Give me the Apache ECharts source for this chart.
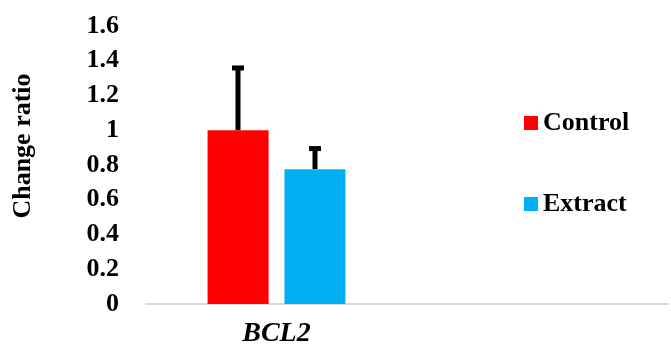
<!DOCTYPE html>
<html>
<head>
<meta charset="utf-8">
<script src="https://cdn.jsdelivr.net/npm/echarts@6/dist/echarts.min.js"></script>
<style>html,body{margin:0;padding:0;background:#fff}#c{width:671px;height:344px}</style>
</head>
<body>
<div id="c"></div>
<script>
var categories = ['BCL2', ''];
var seriesNames = ['Control', 'Extract'];
var controlValues = [1.0, null];
var extractValues = [0.776, null];
var controlErrors = [0.37, null];
var extractErrors = [0.13, null];
var yTicks = { min: 0, max: 1.6, interval: 0.2 };
var yTitle = 'Change ratio';

var FONT = "'Liberation Serif', 'Times New Roman', serif";
var BAR_W = 61, OFFSET = 38.5;

function errSeries(values, errors, dx) {
  return {
    type: 'custom',
    silent: true,
    z: 1,
    data: values.map(function (v, i) { return v == null ? null : [i, v, v + errors[i]]; }).filter(function (d) { return d; }),
    renderItem: function (params, api) {
      var b = api.coord([api.value(0), api.value(1)]);
      var t = api.coord([api.value(0), api.value(2)]);
      var x = b[0] + dx;
      return {
        type: 'group',
        children: [
          { type: 'line', shape: { x1: x, y1: b[1], x2: x, y2: t[1] + 2 }, style: { stroke: '#000', lineWidth: 5 } },
          { type: 'line', shape: { x1: x - 6, y1: t[1] + 2, x2: x + 6, y2: t[1] + 2 }, style: { stroke: '#000', lineWidth: 5 } }
        ]
      };
    }
  };
}

var chart = echarts.init(document.getElementById('c'));
chart.setOption({
  animation: false,
  grid: { left: 146, right: 3, top: 26, bottom: 40, containLabel: false, outerBoundsMode: 'none' },
  graphic: [{
    type: 'text', x: 23, y: 146, rotation: Math.PI / 2,
    style: { text: yTitle, fontFamily: FONT, fontWeight: 'bold', fontSize: 26, fill: '#000', align: 'center', verticalAlign: 'middle' }
  }],
  legend: {
    orient: 'vertical', left: 524, top: 110, padding: 0, itemWidth: 14, itemHeight: 14, itemGap: 55,
    icon: 'rect',
    data: seriesNames,
    textStyle: { fontFamily: FONT, fontWeight: 'bold', fontSize: 26, color: '#000' }
  },
  xAxis: {
    type: 'category', data: categories,
    axisLine: { lineStyle: { color: '#d9d9d9', width: 2 } },
    axisTick: { show: false },
    axisLabel: { fontFamily: FONT, fontWeight: 'bold', fontStyle: 'italic', fontSize: 28, color: '#000', margin: 16 }
  },
  yAxis: {
    type: 'value', min: yTicks.min, max: yTicks.max, interval: yTicks.interval,
    axisLine: { show: false }, axisTick: { show: false }, splitLine: { show: false },
    axisLabel: { fontFamily: FONT, fontWeight: 'bold', fontSize: 26, color: '#000', margin: 27 }
  },
  series: [
    { name: seriesNames[0], type: 'bar', data: controlValues, barWidth: BAR_W, barGap: '26%', itemStyle: { color: '#ff0000' }, z: 2 },
    { name: seriesNames[1], type: 'bar', data: extractValues, barWidth: BAR_W, barGap: '26%', itemStyle: { color: '#00b0f0' }, z: 2 },
    errSeries(controlValues, controlErrors, -OFFSET),
    errSeries(extractValues, extractErrors, OFFSET)
  ]
});
</script>
</body>
</html>
